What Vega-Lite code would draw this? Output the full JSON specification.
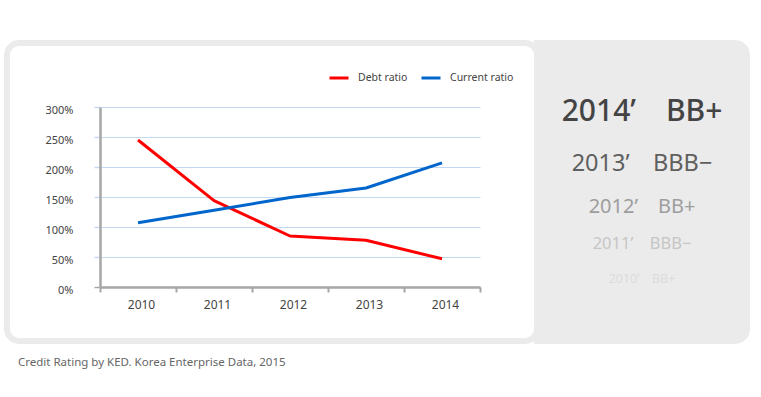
{
  "$schema": "https://vega.github.io/schema/vega-lite/v6.json",
  "padding": {"left": 4, "top": 40, "right": 0, "bottom": 0},
  "background": "#ffffff",
  "config": {
    "font": "Noto Sans",
    "view": {"stroke": null},
    "axis": {"gridColor": "#c3d9f3"},
    "axisY": {"gridColor": "#c3d9f3", "gridOpacity": 1},
    "style": {"ratingpanel": {"cornerRadiusTopRight": 12, "cornerRadiusBottomRight": 12}}
  },
  "spacing": 0,
  "bounds": "flush",
  "resolve": {"scale": {"color": "independent", "size": "independent"}, "legend": {"color": "independent", "size": "independent"}},
  "hconcat": [
    {
      "width": 530,
      "height": 298,
      "view": {"fill": "#ffffff", "stroke": "#ebebeb", "strokeWidth": 6, "cornerRadius": 12},
      "title": {
        "text": "Credit Rating by KED. Korea Enterprise Data, 2015",
        "orient": "bottom",
        "anchor": "start",
        "frame": "group",
        "offset": 16,
        "dx": 11,
        "fontSize": 11.5,
        "fontWeight": "normal",
        "color": "#666666",
        "font": "Noto Sans"
      },
      "data": {"values": [
        {"year": "2010", "series": "Debt ratio", "value": 245},
        {"year": "2011", "series": "Debt ratio", "value": 144},
        {"year": "2012", "series": "Debt ratio", "value": 85},
        {"year": "2013", "series": "Debt ratio", "value": 78},
        {"year": "2014", "series": "Debt ratio", "value": 47},
        {"year": "2010", "series": "Current ratio", "value": 107},
        {"year": "2011", "series": "Current ratio", "value": 128},
        {"year": "2012", "series": "Current ratio", "value": 149},
        {"year": "2013", "series": "Current ratio", "value": 165},
        {"year": "2014", "series": "Current ratio", "value": 207}
      ]},
      "mark": {"type": "line", "strokeWidth": 3, "strokeJoin": "round"},
      "encoding": {
        "x": {
          "field": "year", "type": "ordinal",
          "scale": {"type": "band", "paddingInner": 0, "paddingOuter": 0, "range": [93, 473]},
          "axis": {
            "title": null, "labelAngle": 0, "grid": false, "offset": -54,
            "domainColor": "#a6a6a6", "domainWidth": 2.5,
            "tickColor": "#a6a6a6", "tickWidth": 2, "tickSize": 5, "tickBand": "extent",
            "labelFontSize": 12, "labelColor": "#444444", "labelPadding": 7, "labelOffset": 3
          }
        },
        "y": {
          "field": "value", "type": "quantitative",
          "scale": {"domain": [0, 300], "range": [244, 64], "nice": false},
          "axis": {
            "title": null, "values": [0, 50, 100, 150, 200, 250, 300], "offset": -93,
            "labelExpr": "datum.value + '%'",
            "domain": true, "domainColor": "#a6a6a6", "domainWidth": 2.5,
            "grid": true, "gridColor": "#c3d9f3", "gridWidth": 1, "gridOpacity": 1,
            "tickSize": 6, "tickWidth": 1.5,
            "tickColor": {"condition": {"test": "datum.value === 0", "value": "#a6a6a6"}, "value": "#c3d9f3"},
            "labelFontSize": 11, "labelColor": "#444444", "labelPadding": 21, "labelOffset": 3
          }
        },
        "color": {
          "field": "series", "type": "nominal",
          "scale": {"domain": ["Debt ratio", "Current ratio"], "range": ["#ff0000", "#0066cc"]},
          "legend": {
            "title": null, "orient": "none", "legendX": 321, "legendY": 24,
            "direction": "horizontal", "padding": 0,
            "symbolType": "stroke", "symbolSize": 361, "symbolStrokeWidth": 3,
            "labelFontSize": 10.5, "labelColor": "#444444", "labelOffset": 8,
            "columnPadding": 7
          }
        }
      }
    },
    {
      "width": 210,
      "height": 298,
      "view": {"fill": "#ebebeb", "stroke": "#ebebeb", "strokeWidth": 6, "style": "ratingpanel"},
      "data": {"values": [
        {"rank": 1, "year": 2014, "label": "2014’\u2003BB+"},
        {"rank": 2, "year": 2013, "label": "2013’\u2003BBB−"},
        {"rank": 3, "year": 2012, "label": "2012’\u2003BB+"},
        {"rank": 4, "year": 2011, "label": "2011’\u2003BBB−"},
        {"rank": 5, "year": 2010, "label": "2010’\u2003BB+"}
      ]},
      "mark": {"type": "text", "baseline": "alphabetic", "align": "center", "fontWeight": {"expr": "datum.rank == 1 ? 500 : 400"}},
      "encoding": {
        "y": {
          "field": "rank", "type": "quantitative",
          "scale": {"type": "pow", "exponent": 0.65, "domain": [0.0345, 6.886], "reverse": true, "nice": false, "zero": false},
          "axis": null
        },
        "text": {"field": "label"},
        "size": {
          "field": "rank", "type": "ordinal",
          "scale": {"type": "ordinal", "domain": [1, 2, 3, 4, 5], "range": [30, 23.5, 20, 16.5, 12.5]},
          "legend": null
        },
        "color": {
          "field": "rank", "type": "ordinal",
          "scale": {"domain": [1, 2, 3, 4, 5], "range": ["#444444", "#5f5f5f", "#9d9d9d", "#c6c6c6", "#dcdcdc"]},
          "legend": null
        }
      }
    }
  ]
}
